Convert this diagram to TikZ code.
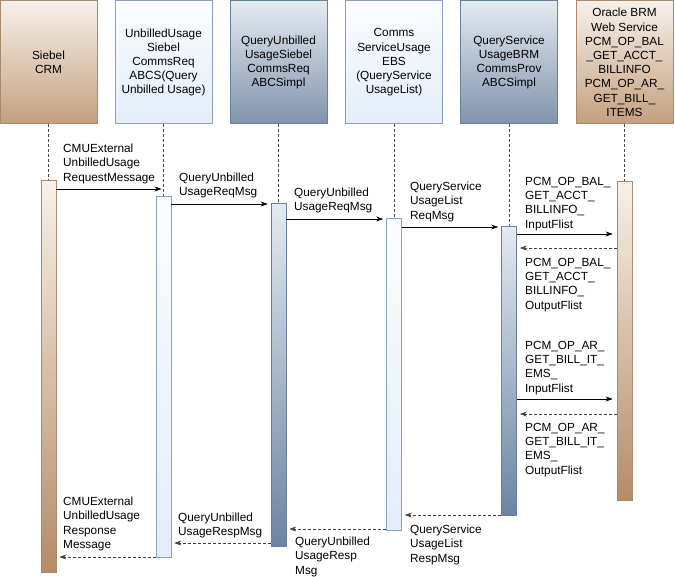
\documentclass[tikz,border=0pt]{standalone}
\usepackage{fontspec}
\setmainfont{Liberation Sans}
\usetikzlibrary{arrows.meta,calc}
\definecolor{tanlight}{HTML}{F7F1EB}
\definecolor{tandark}{HTML}{C4A07E}
\definecolor{tanbar}{HTML}{B58C68}
\definecolor{tanedge}{HTML}{A88A6E}
\definecolor{bluelight}{HTML}{FBFDFF}
\definecolor{bluepale}{HTML}{E3EDF9}
\definecolor{blueedge}{HTML}{8AA2C0}
\definecolor{slatelight}{HTML}{E4EAF0}
\definecolor{slatedark}{HTML}{8093AD}
\definecolor{slatebar}{HTML}{6B84A3}
\definecolor{slateedge}{HTML}{6A8098}
\begin{document}
\begin{tikzpicture}[x=1pt,y=-1pt,
  txt/.style={font=\fontsize{11.8}{14.2}\selectfont},
  head/.style={txt, draw, line width=0.8pt, minimum width=97pt, minimum height=123pt, inner sep=0pt, align=center, anchor=north, shading angle=-50},
  headtan/.style={head, draw=tanedge, top color=tanlight, bottom color=tandark},
  headblue/.style={head, draw=blueedge, top color=bluelight, bottom color=bluepale},
  headslate/.style={head, draw=slateedge, top color=slatelight, bottom color=slatedark},
  bar/.style={draw, line width=0.7pt, minimum width=15pt, inner sep=0pt, anchor=north},
  bartan/.style={bar, draw=tanedge, top color=tanlight, bottom color=tanbar},
  barblue/.style={bar, draw=blueedge, top color=bluelight, bottom color=bluepale},
  barslate/.style={bar, draw=slateedge, top color=slatelight, bottom color=slatebar},
  life/.style={draw=black!70, line width=0.6pt, dash pattern=on 3pt off 2pt},
  msg/.style={draw=black, line width=0.6pt, -{Stealth[length=7pt,width=5pt]}},
  ret/.style={draw=black!75, line width=0.6pt, dash pattern=on 3pt off 2pt, -{Stealth[length=7pt,width=5pt]}},
  lbl/.style={txt, anchor=north west, inner sep=0pt, align=left}
]
\useasboundingbox (0,0) rectangle (675,577);
% headers
\node[headtan]   (h1) at (48.5,0.5) {Siebel\\CRM};
\node[headblue]  (h2) at (163.5,0.5) {UnbilledUsage\\Siebel\\CommsReq\\ABCS(Query\\Unbilled Usage)};
\node[headslate] (h3) at (278.5,0.5) {QueryUnbilled\\UsageSiebel\\CommsReq\\ABCSimpl};
\node[headblue]  (h4) at (394,0.5) {Comms\\ServiceUsage\\EBS\\(QueryService\\UsageList)};
\node[headslate] (h5) at (509,0.5) {QueryService\\UsageBRM\\CommsProv\\ABCSimpl};
\node[headtan]   (h6) at (624.5,0.5) {Oracle BRM\\Web Service\\PCM\_OP\_BAL\\\_GET\_ACCT\_\\BILLINFO\\PCM\_OP\_AR\_\\GET\_BILL\_\\ITEMS};
% activation bars
\node[bartan,   minimum height=392pt] (b1) at (48.5,180) {};
\node[barblue,  minimum height=361pt] (b2) at (163.5,196) {};
\node[barslate, minimum height=343pt] (b3) at (278.5,203) {};
\node[barblue,  minimum height=312pt] (b4) at (394,218) {};
\node[barslate, minimum height=289pt] (b5) at (509,226) {};
\node[bartan,   minimum height=319pt] (b6) at (624.5,181) {};
% lifelines
\draw[life] (h1.south) -- (b1.north);
\draw[life] (h2.south) -- (b2.north);
\draw[life] (h3.south) -- (b3.north);
\draw[life] (h4.south) -- (b4.north);
\draw[life] (h5.south) -- (b5.north);
\draw[life] (h6.south) -- (b6.north);
% requests
\draw[msg, shorten >=2pt] (b1.east |- 0,189) -- (h2.south |- 0,189);
\draw[msg, shorten >=3pt] (b2.east |- 0,204) -- (b3.west |- 0,204);
\draw[msg, shorten >=3pt] (b3.east |- 0,219) -- (b4.west |- 0,219);
\draw[msg, shorten >=3pt] (b4.east |- 0,227) -- (b5.west |- 0,227);
\draw[msg, shorten >=4pt] (b5.east |- 0,234) -- (b6.west |- 0,234);
\draw[ret, shorten >=3pt] (b6.west |- 0,248) -- (b5.east |- 0,248);
\draw[msg, shorten >=4pt] (b5.east |- 0,399) -- (b6.west |- 0,399);
\draw[ret, shorten >=3pt] (b6.west |- 0,414) -- (b5.east |- 0,414);
% responses
\draw[ret, shorten >=3pt] (b5.west |- 0,515) -- (b4.east |- 0,515);
\draw[ret, shorten >=3pt] (b4.west |- 0,529) -- (b3.east |- 0,529);
\draw[ret, shorten >=3pt] (b3.west |- 0,543) -- (b2.east |- 0,543);
\draw[ret, shorten >=3pt] (b2.west |- 0,557) -- (b1.east |- 0,557);
% labels
\node[lbl] (l1) at (63,144) {CMUExternal\\UnbilledUsage\\RequestMessage};
\node[lbl] (l2) at (179,173) {QueryUnbilled\\UsageReqMsg};
\node[lbl] (l3) at (294,188) {QueryUnbilled\\UsageReqMsg};
\node[lbl] (l4) at (410,182) {QueryService\\UsageList\\ReqMsg};
\node[lbl] (l5) at (525,177) {PCM\_OP\_BAL\_\\GET\_ACCT\_\\BILLINFO\_\\InputFlist};
\node[lbl] (l6) at (525,258) {PCM\_OP\_BAL\_\\GET\_ACCT\_\\BILLINFO\_\\OutputFlist};
\node[lbl] (l7) at (525,341) {PCM\_OP\_AR\_\\GET\_BILL\_IT\_\\EMS\_\\InputFlist};
\node[lbl] (l8) at (525,423) {PCM\_OP\_AR\_\\GET\_BILL\_IT\_\\EMS\_\\OutputFlist};
\node[lbl] (l9) at (410,525) {QueryService\\UsageList\\RespMsg};
\node[lbl] (l10) at (295,537) {QueryUnbilled\\UsageResp\\Msg};
\node[lbl] (l11) at (178,513) {QueryUnbilled\\UsageRespMsg};
\node[lbl] (l12) at (63,497) {CMUExternal\\UnbilledUsage\\Response\\Message};
\end{tikzpicture}
\end{document}
